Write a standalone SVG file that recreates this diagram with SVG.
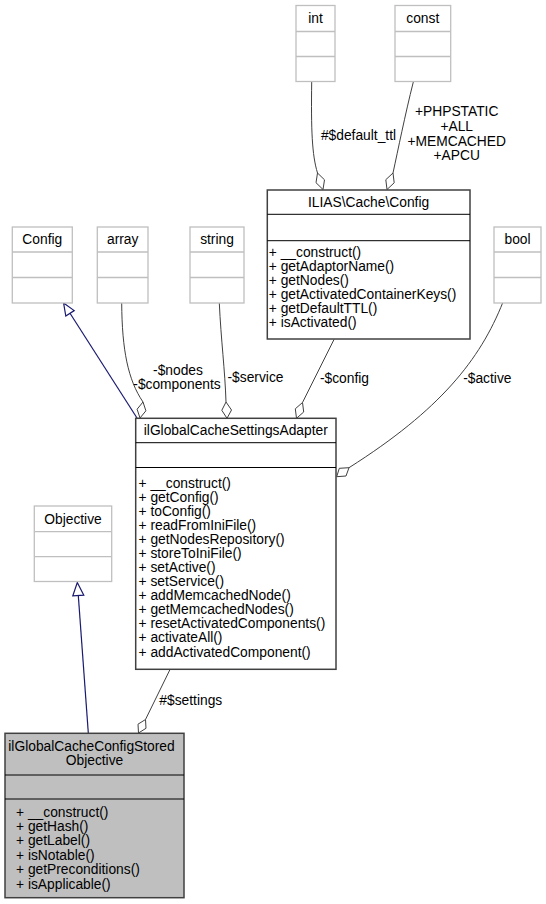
<svg xmlns="http://www.w3.org/2000/svg" width="546" height="904" viewBox="0 0 546 904">
<style>
text{font-family:"Liberation Sans",Arial,Helvetica,sans-serif;font-size:13.8px;fill:#000}
.c{text-anchor:middle}
.gbox{fill:#fff;stroke:#bfbfbf;stroke-width:1.3}
.gdiv{stroke:#bfbfbf;stroke-width:1.3}
.box{fill:#fff;stroke:#404040;stroke-width:1.5}
.cur{fill:#bfbfbf;stroke:#404040;stroke-width:1.5}
.div{stroke:#000;stroke-width:1}
.use{fill:none;stroke:#404040;stroke-width:1}
.dia{fill:#fff;stroke:#404040;stroke-width:1}
.inh{fill:none;stroke:#191970;stroke-width:1.2}
.tri{fill:#fff;stroke:#191970;stroke-width:1.2}
</style>
<rect width="546" height="904" fill="#fff"/>
<g id="connectors">
  <path class="use" d="M311.7,82 C311,130 312,155 317.5,173"/>
  <polygon class="dia" points="323,189.5 324.5,179.8 317.5,173 316,182.7"/>
  <text class="c" x="358.5" y="139.5">#$default_ttl</text>
  <path class="use" d="M413.3,82 C405,115 398,150 393,173"/>
  <polygon class="dia" points="387,189.5 394.2,182.8 393,173 385.8,179.7"/>
  <text class="c" x="456.7" y="116">+PHPSTATIC</text>
  <text class="c" x="456.7" y="130.8">+ALL</text>
  <text class="c" x="456.7" y="145.6">+MEMCACHED</text>
  <text class="c" x="456.7" y="160.4">+APCU</text>
  <path class="inh" d="M137,418 L70,313.3"/>
  <polygon class="tri" points="63.6,303 74.2,310.6 65.8,316"/>
  <path class="use" d="M121.7,303 C122,350 128,380 143,402"/>
  <polygon class="dia" points="140,418 145.9,410.8 143,402 137.1,409.2"/>
  <text class="c" x="178" y="375">-$nodes</text>
  <text class="c" x="177" y="389">-$components</text>
  <path class="use" d="M219.3,303 C221,340 225,370 226,402"/>
  <polygon class="dia" points="227,418.3 231.5,410 226,402 221.8,410.3"/>
  <text class="c" x="255.5" y="382">-$service</text>
  <path class="use" d="M334,339.5 L302.5,402.5"/>
  <polygon class="dia" points="296.5,418.3 303.7,412 302.5,402.5 295.3,408.8"/>
  <text class="c" x="344.5" y="383">-$config</text>
  <path class="use" d="M503,302 C480,360 440,410 349,467.7"/>
  <polygon class="dia" points="336.7,476.7 339.3,468.3 349,467.7 346,476"/>
  <text class="c" x="487.3" y="383">-$active</text>
  <path class="inh" d="M88.3,733 L78.3,595.5"/>
  <polygon class="tri" points="77.3,582.5 83.8,595.1 72.8,595.9"/>
  <path class="use" d="M170,669.5 L145.5,719.5"/>
  <polygon class="dia" points="138.5,733 146,728.3 145.5,719.5 138,724.2"/>
  <text class="c" x="190.8" y="705">#$settings</text>
</g>
<g id="node-int">
  <rect class="gbox" x="296" y="5.5" width="39" height="76"/>
  <line class="gdiv" x1="296" y1="31.5" x2="335" y2="31.5"/>
  <line class="gdiv" x1="296" y1="56.5" x2="335" y2="56.5"/>
  <text class="c" x="315.5" y="23.3">int</text>
</g>
<g id="node-const">
  <rect class="gbox" x="395" y="5.5" width="55.7" height="76"/>
  <line class="gdiv" x1="395" y1="31.5" x2="450.7" y2="31.5"/>
  <line class="gdiv" x1="395" y1="56.5" x2="450.7" y2="56.5"/>
  <text class="c" x="422.8" y="23.3">const</text>
</g>
<g id="node-config-ilias">
  <rect class="box" x="267.3" y="190" width="202.7" height="149"/>
  <line class="div" x1="267.3" y1="214.3" x2="470" y2="214.3"/>
  <line class="div" x1="267.3" y1="240.7" x2="470" y2="240.7"/>
  <text class="c" x="368.6" y="207">ILIAS\Cache\Config</text>
  <text x="268.8" y="256.5">+ __construct()</text>
  <text x="268.8" y="270.6">+ getAdaptorName()</text>
  <text x="268.8" y="284.7">+ getNodes()</text>
  <text x="268.8" y="298.8">+ getActivatedContainerKeys()</text>
  <text x="268.8" y="312.9">+ getDefaultTTL()</text>
  <text x="268.8" y="327">+ isActivated()</text>
</g>
<g id="node-Config">
  <rect class="gbox" x="12.3" y="227" width="60" height="76"/>
  <line class="gdiv" x1="12.3" y1="252" x2="72.3" y2="252"/>
  <line class="gdiv" x1="12.3" y1="277.5" x2="72.3" y2="277.5"/>
  <text class="c" x="42.3" y="244.3">Config</text>
</g>
<g id="node-array">
  <rect class="gbox" x="97.3" y="227" width="50.7" height="76"/>
  <line class="gdiv" x1="97.3" y1="252" x2="148" y2="252"/>
  <line class="gdiv" x1="97.3" y1="277.5" x2="148" y2="277.5"/>
  <text class="c" x="122.7" y="244.3">array</text>
</g>
<g id="node-string">
  <rect class="gbox" x="190" y="227" width="54" height="76"/>
  <line class="gdiv" x1="190" y1="252" x2="244" y2="252"/>
  <line class="gdiv" x1="190" y1="277.5" x2="244" y2="277.5"/>
  <text class="c" x="217" y="244.3">string</text>
</g>
<g id="node-bool">
  <rect class="gbox" x="494" y="227" width="47" height="76"/>
  <line class="gdiv" x1="494" y1="252" x2="541" y2="252"/>
  <line class="gdiv" x1="494" y1="277.5" x2="541" y2="277.5"/>
  <text class="c" x="517.5" y="244.3">bool</text>
</g>
<g id="node-adapter">
  <rect class="box" x="135.7" y="418.3" width="200.3" height="251"/>
  <line class="div" x1="135.7" y1="442.7" x2="336" y2="442.7"/>
  <line class="div" x1="135.7" y1="467.5" x2="336" y2="467.5"/>
  <text class="c" x="235.8" y="435">ilGlobalCacheSettingsAdapter</text>
  <text x="138.5" y="487.5">+ __construct()</text>
  <text x="138.5" y="501.6">+ getConfig()</text>
  <text x="138.5" y="515.7">+ toConfig()</text>
  <text x="138.5" y="529.7">+ readFromIniFile()</text>
  <text x="138.5" y="543.8">+ getNodesRepository()</text>
  <text x="138.5" y="557.9">+ storeToIniFile()</text>
  <text x="138.5" y="572">+ setActive()</text>
  <text x="138.5" y="586.1">+ setService()</text>
  <text x="138.5" y="600.1">+ addMemcachedNode()</text>
  <text x="138.5" y="614.2">+ getMemcachedNodes()</text>
  <text x="138.5" y="628.3">+ resetActivatedComponents()</text>
  <text x="138.5" y="642.4">+ activateAll()</text>
  <text x="138.5" y="656.5">+ addActivatedComponent()</text>
</g>
<g id="node-Objective">
  <rect class="gbox" x="34.3" y="506" width="77.4" height="75.5"/>
  <line class="gdiv" x1="34.3" y1="531.7" x2="111.7" y2="531.7"/>
  <line class="gdiv" x1="34.3" y1="556.7" x2="111.7" y2="556.7"/>
  <text class="c" x="73" y="523.6">Objective</text>
</g>
<g id="node-stored-objective">
  <rect class="cur" x="5" y="733.3" width="179" height="164.4"/>
  <line class="div" x1="5" y1="775" x2="184" y2="775"/>
  <line class="div" x1="5" y1="799" x2="184" y2="799"/>
  <text class="c" x="91.5" y="750.8">ilGlobalCacheConfigStored</text>
  <text class="c" x="94.5" y="764.8">Objective</text>
  <text x="16" y="816.5">+ __construct()</text>
  <text x="16" y="830.9">+ getHash()</text>
  <text x="16" y="845.3">+ getLabel()</text>
  <text x="16" y="859.7">+ isNotable()</text>
  <text x="16" y="874.1">+ getPreconditions()</text>
  <text x="16" y="888.5">+ isApplicable()</text>
</g>
</svg>
